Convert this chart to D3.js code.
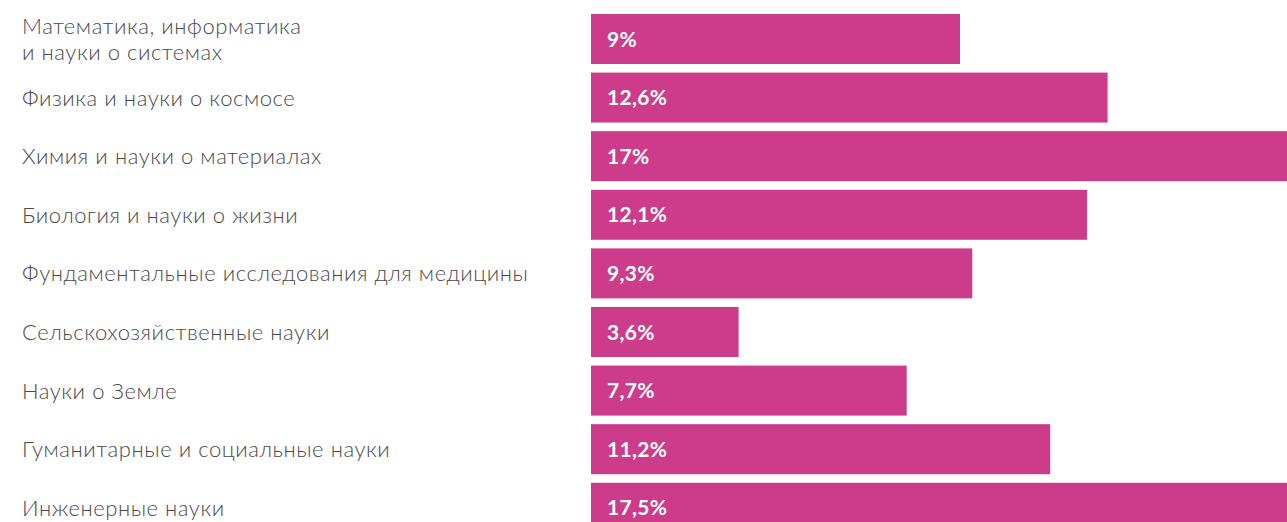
<!DOCTYPE html>
<html>
<head>
<meta charset="utf-8">
<script src="https://cdn.jsdelivr.net/npm/d3@7"></script>
<style>
  html, body { margin: 0; padding: 0; background: #fff; overflow: hidden; }
  .cat { font-family: Lato, "Open Sans", sans-serif; font-weight: 300; font-size: 22px; letter-spacing: 0.55px; fill: #4a4a4a; }
  .val { font-family: Lato, "Open Sans", sans-serif; font-weight: 700; font-size: 21px; letter-spacing: 0.3px; fill: #fff; }
</style>
</head>
<body>
<svg id="chart"></svg>
<script>
"use strict"
// categories and shares (percent)
var categories = [
    "Математика, информатика\nи науки о системах",
    "Физика и науки о космосе",
    "Химия и науки о материалах",
    "Биология и науки о жизни",
    "Фундаментальные исследования для медицины",
    "Сельскохозяйственные науки",
    "Науки о Земле",
    "Гуманитарные и социальные науки",
    "Инженерные науки"
];
var values = [9, 12.6, 17, 12.1, 9.3, 3.6, 7.7, 11.2, 17.5];
var valueLabels = ["9%", "12,6%", "17%", "12,1%", "9,3%", "3,6%", "7,7%", "11,2%", "17,5%"];

var width = 1287;
var height = 522;
var barLeft = 591; // bars start here, labels sit to the left

var svg = d3.select("#chart").attr("width", width).attr("height", height);

var xScale = d3.scaleLinear().domain([0, 17]).range([barLeft, barLeft + 697]);
var yScale = d3.scaleBand()
    .domain(d3.range(categories.length))
    .range([14, 14 + 58.6 * (categories.length - 0.147)])
    .paddingInner(0.147)
    .paddingOuter(0);

var rows = svg.selectAll(".row")
    .data(values)
    .enter()
    .append("g")
    .attr("class", "row")
    .attr("transform", function(d, i) { return "translate(0," + yScale(i) + ")" });

rows.append("rect")
    .attr("x", xScale(0))
    .attr("y", 0)
    .attr("width", function(d) { return xScale(d) - xScale(0) })
    .attr("height", yScale.bandwidth())
    .attr("fill", "#cc3c8b");

rows.append("text")
    .attr("class", "val")
    .attr("x", xScale(0) + 16)
    .attr("y", yScale.bandwidth() / 2)
    .attr("dy", "0.36em")
    .text(function(d, i) { return valueLabels[i] });

// category labels, may be split over two lines
rows.append("text")
    .attr("class", "cat")
    .attr("x", 22)
    .attr("y", yScale.bandwidth() / 2)
    .each(function(d, i) {
        var lines = categories[i].split("\n");
        var t = d3.select(this);
        var lh = 26.5;
        lines.forEach(function(line, k) {
            t.append("tspan")
                .attr("x", 22)
                .attr("y", yScale.bandwidth() / 2 + (k - (lines.length - 1) / 2) * lh)
                .attr("dy", "0.36em")
                .text(line);
        });
    });
</script>
</body>
</html>
